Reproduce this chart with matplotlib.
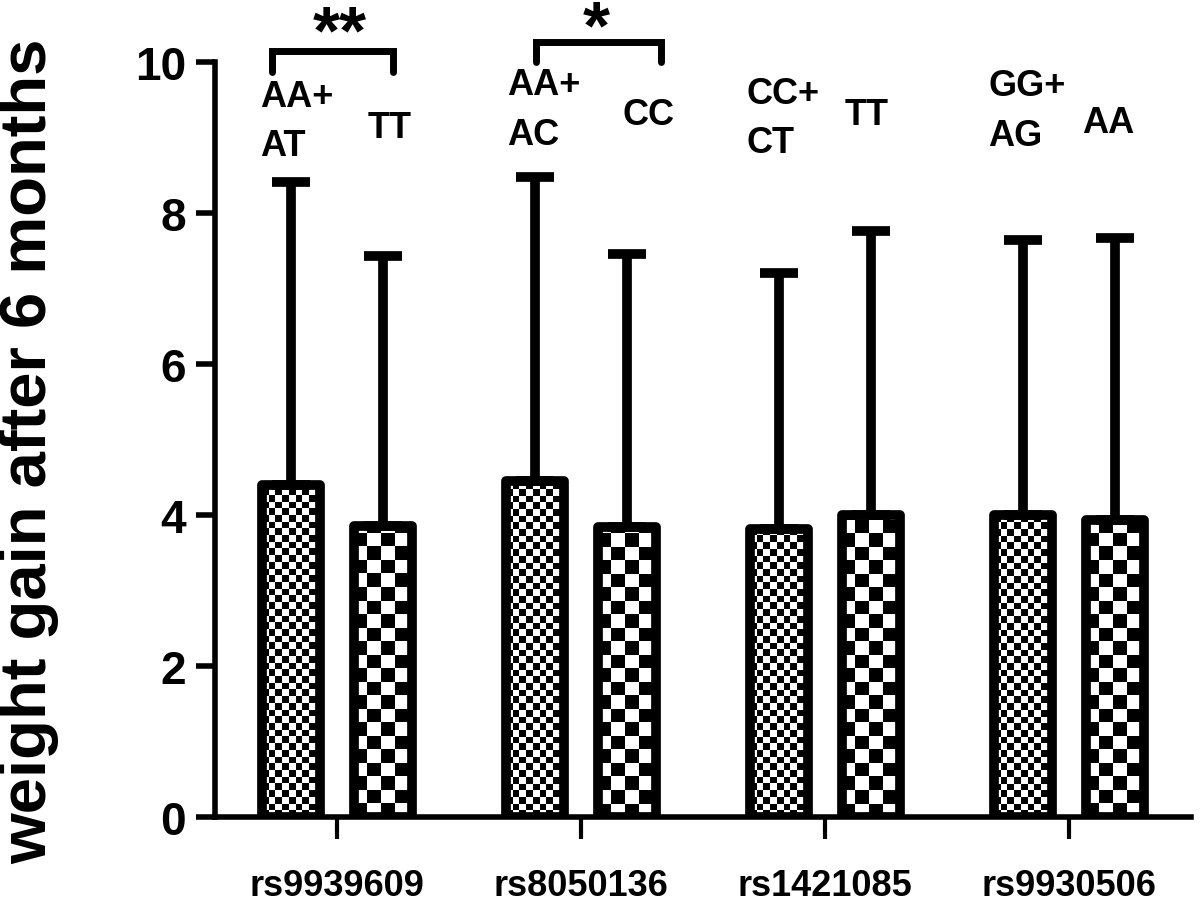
import numpy as np
import matplotlib
matplotlib.use('Agg')
import matplotlib.pyplot as plt
from matplotlib.transforms import ScaledTranslation

# data
snps = ['rs9939609', 'rs8050136', 'rs1421085', 'rs9930506']
geno_left = ['AA+\nAT', 'AA+\nAC', 'CC+\nCT', 'GG+\nAG']
geno_right = ['TT', 'CC', 'TT', 'AA']
mean_left = [4.40, 4.45, 3.81, 4.00]
mean_right = [3.85, 3.84, 4.00, 3.93]
top_left = [8.41, 8.48, 7.20, 7.64]
top_right = [7.43, 7.46, 7.76, 7.67]
signif = ['**', '*', '', '']

plt.rcParams['font.family'] = ['Liberation Sans', 'DejaVu Sans']
plt.rcParams['font.weight'] = 'bold'


def checker_fill(ax, patch, cw, ch):
    # checkerboard image clipped to the bar
    x0, y0 = patch.get_x(), patch.get_y()
    w, h = patch.get_width(), patch.get_height()
    nx = int(np.ceil(w / cw)) + 1
    ny = int(np.ceil(h / ch)) + 1
    arr = np.indices((ny, nx)).sum(axis=0) % 2
    im = ax.imshow(arr, cmap='gray', vmin=0, vmax=1, origin='lower',
                   extent=(x0, x0 + nx * cw, y0, y0 + ny * ch),
                   interpolation='nearest', aspect='auto', zorder=1)
    im.set_clip_path(patch)


fig = plt.figure(figsize=(12, 9.03), dpi=100)
ax = fig.add_axes([0.1792, 0.0941, 0.8133, 0.836])

x = np.arange(len(snps))
off = 0.19
width = 0.237

bl = ax.bar(x - off, mean_left, width, facecolor='none', edgecolor='black',
            linewidth=7, zorder=2, joinstyle='round')
br = ax.bar(x + off, mean_right, width, facecolor='none', edgecolor='black',
            linewidth=7, zorder=2, joinstyle='round')
for p in bl:
    checker_fill(ax, p, 0.0275, 0.0887)
for p in br:
    checker_fill(ax, p, 0.0553, 0.179)

for xs, m, t in [(x - off, mean_left, top_left), (x + off, mean_right, top_right)]:
    m = np.array(m)
    t = np.array(t)
    ax.errorbar(xs, m, yerr=[np.zeros_like(m), t - m], fmt='none', ecolor='black',
                elinewidth=7, capsize=14, capthick=7, zorder=3)

# genotype labels
lx_left = [-0.316, -0.303, -0.32, -0.332]
ly_left = [9.22, 9.37, 9.26, 9.36]
lx_right = [0.127, 0.172, 0.082, 0.053]
ly_right = [9.13, 9.31, 9.31, 9.20]
for i in range(len(snps)):
    ax.text(i + lx_left[i], ly_left[i], geno_left[i], fontsize=26, ha='left',
            va='center', linespacing=1.55, clip_on=False)
    ax.text(i + lx_right[i], ly_right[i], geno_right[i], fontsize=26, ha='left',
            va='center', clip_on=False)

# significance brackets
brk = [(-0.266, 0.229, 10.15, 9.87, 0.012, 10.13),
       (-0.184, 0.328, 10.26, 10.0, 0.062, 10.19)]
for i, (a, b, yh, yl, sx, sy) in enumerate(brk):
    ax.plot([i + a, i + a, i + b, i + b], [yl, yh, yh, yl], color='black', lw=5,
            solid_capstyle='round', solid_joinstyle='miter', clip_on=False)
    ax.text(i + sx, sy, signif[i], fontsize=50, ha='center', va='baseline',
            clip_on=False)

ax.set_xlim(-0.5, 3.5)
ax.set_ylim(0, 10)
ax.set_yticks([0, 2, 4, 6, 8, 10])
ax.set_xticks(x)
ax.set_xticklabels(snps, fontsize=26, fontweight='bold')
ax.set_yticklabels(['0', '2', '4', '6', '8', '10'], fontsize=33, fontweight='bold')
for lab in ax.get_xticklabels():
    lab.set_transform(lab.get_transform() + ScaledTranslation(0.11, 0, fig.dpi_scale_trans))

for s in ['top', 'right']:
    ax.spines[s].set_visible(False)
for s in ['left', 'bottom']:
    ax.spines[s].set_linewidth(4)
ax.tick_params(axis='y', length=14, width=4, pad=7)
ax.tick_params(axis='x', length=16, width=3, pad=21)

fig.text(0.024, 0.5, 'weight gain after 6 months', rotation=90, fontsize=47,
         fontweight='bold', ha='center', va='center')

fig.savefig('out.png', dpi=100)
